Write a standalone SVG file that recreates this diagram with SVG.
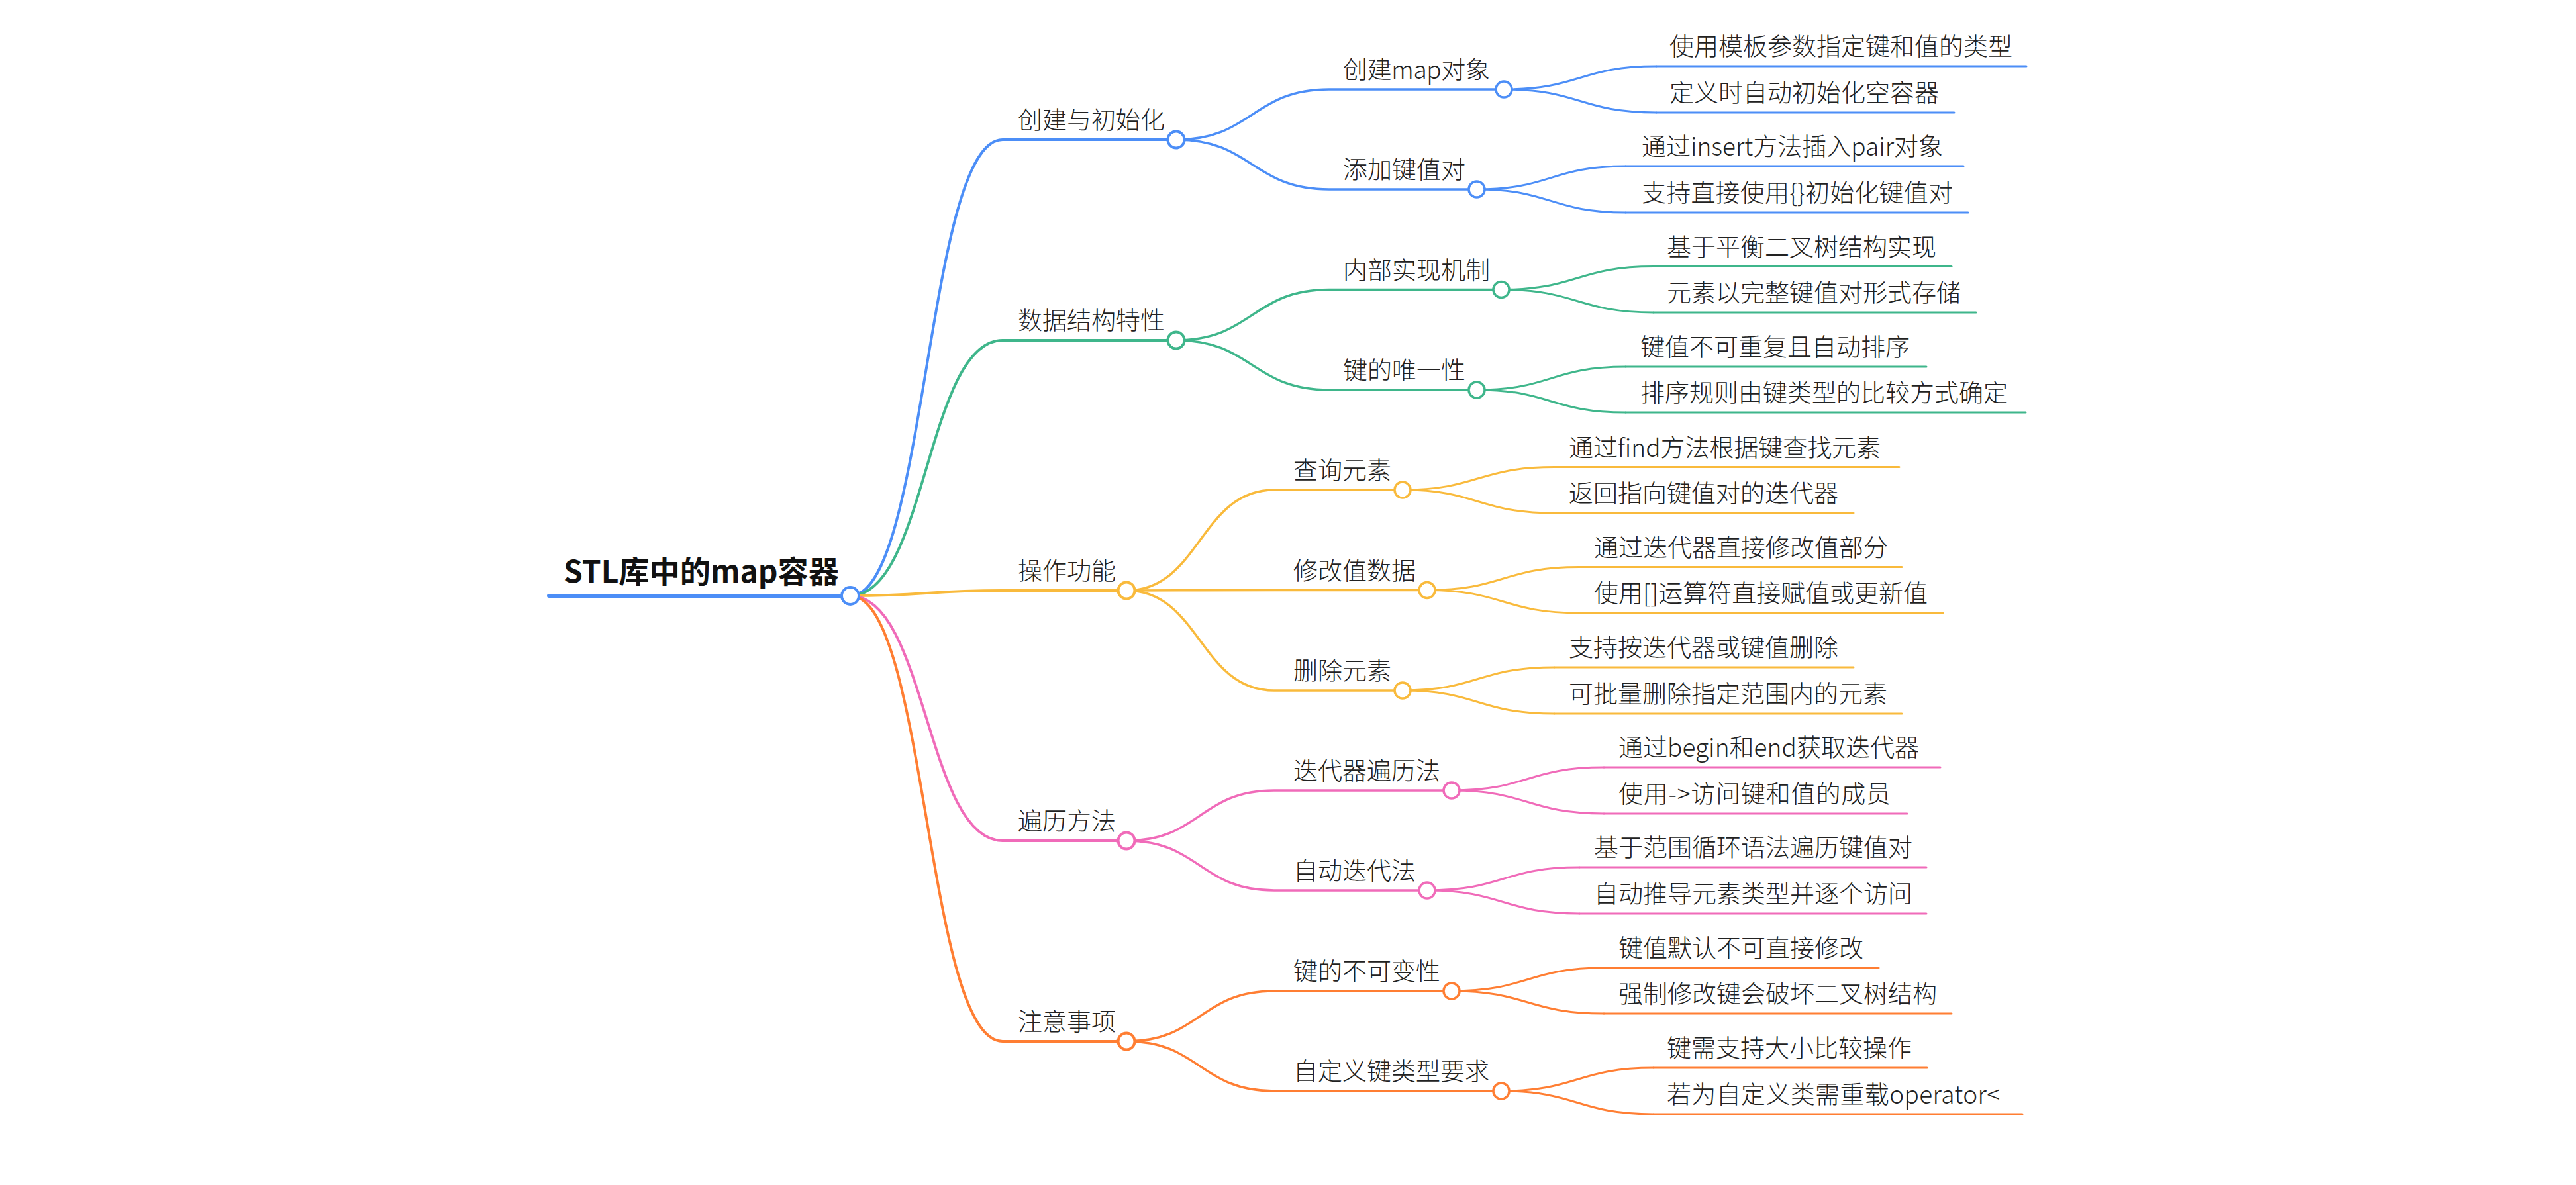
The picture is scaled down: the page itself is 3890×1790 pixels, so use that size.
<svg xmlns="http://www.w3.org/2000/svg" width="3890" height="1790" viewBox="0 0 3890 1790">
<style>
text{font-family:"Noto Sans CJK SC","Microsoft YaHei","Noto Sans",sans-serif;fill:#222;font-size:37px;font-weight:300}
.root{font-size:46px;font-weight:700;fill:#111}
path,line{fill:none;stroke-linecap:round}
circle{fill:#fff}
.b{stroke:#4C8EF7}.g{stroke:#3FB68B}.y{stroke:#F9BA3C}.p{stroke:#F06BB9}.o{stroke:#FF7E33}
.w1{stroke-width:4}.w2{stroke-width:3.5}.w3{stroke-width:3}
.c1{stroke-width:4}.c2{stroke-width:3.5}
</style>
<rect width="3890" height="1790" fill="#fff"/>
<g id="connectors">
<path class="b w1" d="M1284 900 C1399 900,1399 211,1514 211 L1776 211"/>
<path class="g w1" d="M1284 900 C1399 900,1399 514,1514 514 L1776 514"/>
<path class="y w1" d="M1284 900 C1399 900,1399 892,1514 892 L1701 892"/>
<path class="p w1" d="M1284 900 C1399 900,1399 1270,1514 1270 L1701 1270"/>
<path class="o w1" d="M1284 900 C1399 900,1399 1573,1514 1573 L1701 1573"/>
<path class="b w2" d="M1776 211 C1891 211,1891 135,2007 135 L2271 135"/>
<path class="b w2" d="M1776 211 C1891 211,1891 286,2007 286 L2230 286"/>
<path class="g w2" d="M1776 514 C1891 514,1891 437.5,2007 437.5 L2267 437.5"/>
<path class="g w2" d="M1776 514 C1891 514,1891 589,2007 589 L2230 589"/>
<path class="y w2" d="M1701 892 C1812 892,1812 740,1924 740 L2118 740"/>
<path class="y w2" d="M1701 892 C1812 892,1812 891.5,1924 891.5 L2155 891.5"/>
<path class="y w2" d="M1701 892 C1812 892,1812 1043,1924 1043 L2118 1043"/>
<path class="p w2" d="M1701 1270 C1812 1270,1812 1194,1924 1194 L2192 1194"/>
<path class="p w2" d="M1701 1270 C1812 1270,1812 1345,1924 1345 L2155 1345"/>
<path class="o w2" d="M1701 1573 C1812 1573,1812 1497,1924 1497 L2192 1497"/>
<path class="o w2" d="M1701 1573 C1812 1573,1812 1648,1924 1648 L2267 1648"/>
<path class="b w3" d="M2271 135 C2386 135,2386 100,2501 100"/>
<path class="b w3" d="M2271 135 C2386 135,2386 170,2501 170"/>
<path class="b w3" d="M2230 286 C2342 286,2342 251,2455 251"/>
<path class="b w3" d="M2230 286 C2342 286,2342 321,2455 321"/>
<path class="g w3" d="M2267 437.5 C2382 437.5,2382 402.5,2497 402.5"/>
<path class="g w3" d="M2267 437.5 C2382 437.5,2382 472,2497 472"/>
<path class="g w3" d="M2230 589 C2342 589,2342 554,2455 554"/>
<path class="g w3" d="M2230 589 C2342 589,2342 623,2455 623"/>
<path class="y w3" d="M2118 740 C2232 740,2232 705.5,2347 705.5"/>
<path class="y w3" d="M2118 740 C2232 740,2232 775,2347 775"/>
<path class="y w3" d="M2155 891.5 C2270 891.5,2270 856.5,2385 856.5"/>
<path class="y w3" d="M2155 891.5 C2270 891.5,2270 926,2385 926"/>
<path class="y w3" d="M2118 1043 C2232 1043,2232 1008,2347 1008"/>
<path class="y w3" d="M2118 1043 C2232 1043,2232 1078,2347 1078"/>
<path class="p w3" d="M2192 1194 C2307 1194,2307 1159,2422 1159"/>
<path class="p w3" d="M2192 1194 C2307 1194,2307 1229,2422 1229"/>
<path class="p w3" d="M2155 1345 C2270 1345,2270 1310,2385 1310"/>
<path class="p w3" d="M2155 1345 C2270 1345,2270 1380,2385 1380"/>
<path class="o w3" d="M2192 1497 C2307 1497,2307 1462,2422 1462"/>
<path class="o w3" d="M2192 1497 C2307 1497,2307 1531,2422 1531"/>
<path class="o w3" d="M2267 1648 C2382 1648,2382 1613,2497 1613"/>
<path class="o w3" d="M2267 1648 C2382 1648,2382 1683,2497 1683"/>
</g>
<g id="root">
<line class="b" stroke-width="6" x1="829" y1="900" x2="1284" y2="900"/>
<text class="root" x="851" y="880" textLength="416" lengthAdjust="spacingAndGlyphs">STL库中的map容器</text>
<circle class="b c1" cx="1284" cy="900" r="13"/>
</g>
<g id="n-create"><text x="1537" y="195">创建与初始化</text><circle class="b c1" cx="1776" cy="211" r="12.5"/></g>
<g id="n-struct"><text x="1537" y="498">数据结构特性</text><circle class="g c1" cx="1776" cy="514" r="12.5"/></g>
<g id="n-ops"><text x="1537" y="876">操作功能</text><circle class="y c1" cx="1701" cy="892" r="12.5"/></g>
<g id="n-trav"><text x="1537" y="1254">遍历方法</text><circle class="p c1" cx="1701" cy="1270" r="12.5"/></g>
<g id="n-note"><text x="1537" y="1557">注意事项</text><circle class="o c1" cx="1701" cy="1573" r="12.5"/></g>

<g id="n-create-map"><text x="2028" y="119" textLength="222">创建map对象</text><circle class="b c2" cx="2271" cy="135" r="12"/></g>
<g id="n-add-kv"><text x="2028" y="270">添加键值对</text><circle class="b c2" cx="2230" cy="286" r="12"/></g>
<g id="n-impl"><text x="2028" y="421.5">内部实现机制</text><circle class="g c2" cx="2267" cy="437.5" r="12"/></g>
<g id="n-unique"><text x="2028" y="573">键的唯一性</text><circle class="g c2" cx="2230" cy="589" r="12"/></g>
<g id="n-find"><text x="1953" y="724">查询元素</text><circle class="y c2" cx="2118" cy="740" r="12"/></g>
<g id="n-modify"><text x="1953" y="875.5">修改值数据</text><circle class="y c2" cx="2155" cy="891.5" r="12"/></g>
<g id="n-erase"><text x="1953" y="1027">删除元素</text><circle class="y c2" cx="2118" cy="1043" r="12"/></g>
<g id="n-iter"><text x="1953" y="1178">迭代器遍历法</text><circle class="p c2" cx="2192" cy="1194" r="12"/></g>
<g id="n-auto"><text x="1953" y="1329">自动迭代法</text><circle class="p c2" cx="2155" cy="1345" r="12"/></g>
<g id="n-immut"><text x="1953" y="1481">键的不可变性</text><circle class="o c2" cx="2192" cy="1497" r="12"/></g>
<g id="n-custom"><text x="1953" y="1632">自定义键类型要求</text><circle class="o c2" cx="2267" cy="1648" r="12"/></g>

<g id="l1"><line class="b w3" x1="2501" y1="100" x2="3060" y2="100"/><text x="2521" y="84">使用模板参数指定键和值的类型</text></g>
<g id="l2"><line class="b w3" x1="2501" y1="170" x2="2951" y2="170"/><text x="2521" y="154">定义时自动初始化空容器</text></g>
<g id="l3"><line class="b w3" x1="2455" y1="251" x2="2965" y2="251"/><text x="2479" y="235" textLength="455">通过insert方法插入pair对象</text></g>
<g id="l4"><line class="b w3" x1="2455" y1="321" x2="2972" y2="321"/><text x="2479" y="305" textLength="470">支持直接使用{}初始化键值对</text></g>
<g id="l5"><line class="g w3" x1="2497" y1="402.5" x2="2947" y2="402.5"/><text x="2517" y="386.5">基于平衡二叉树结构实现</text></g>
<g id="l6"><line class="g w3" x1="2497" y1="472" x2="2984" y2="472"/><text x="2517" y="456">元素以完整键值对形式存储</text></g>
<g id="l7"><line class="g w3" x1="2455" y1="554" x2="2909" y2="554"/><text x="2477" y="538">键值不可重复且自动排序</text></g>
<g id="l8"><line class="g w3" x1="2455" y1="623" x2="3059" y2="623"/><text x="2477" y="607">排序规则由键类型的比较方式确定</text></g>
<g id="l9"><line class="y w3" x1="2347" y1="705.5" x2="2868" y2="705.5"/><text x="2369" y="689.5" textLength="471">通过find方法根据键查找元素</text></g>
<g id="l10"><line class="y w3" x1="2347" y1="775" x2="2799" y2="775"/><text x="2369" y="759">返回指向键值对的迭代器</text></g>
<g id="l11"><line class="y w3" x1="2385" y1="856.5" x2="2872" y2="856.5"/><text x="2407" y="840.5">通过迭代器直接修改值部分</text></g>
<g id="l12"><line class="y w3" x1="2385" y1="926" x2="2934" y2="926"/><text x="2407" y="910" textLength="504">使用[]运算符直接赋值或更新值</text></g>
<g id="l13"><line class="y w3" x1="2347" y1="1008" x2="2799" y2="1008"/><text x="2369" y="992">支持按迭代器或键值删除</text></g>
<g id="l14"><line class="y w3" x1="2347" y1="1078" x2="2872" y2="1078"/><text x="2369" y="1062">可批量删除指定范围内的元素</text></g>
<g id="l15"><line class="p w3" x1="2422" y1="1159" x2="2930" y2="1159"/><text x="2444" y="1143" textLength="454">通过begin和end获取迭代器</text></g>
<g id="l16"><line class="p w3" x1="2422" y1="1229" x2="2880" y2="1229"/><text x="2444" y="1213" textLength="411">使用-&gt;访问键和值的成员</text></g>
<g id="l17"><line class="p w3" x1="2385" y1="1310" x2="2909" y2="1310"/><text x="2407" y="1294">基于范围循环语法遍历键值对</text></g>
<g id="l18"><line class="p w3" x1="2385" y1="1380" x2="2909" y2="1380"/><text x="2407" y="1364">自动推导元素类型并逐个访问</text></g>
<g id="l19"><line class="o w3" x1="2422" y1="1462" x2="2837" y2="1462"/><text x="2444" y="1446">键值默认不可直接修改</text></g>
<g id="l20"><line class="o w3" x1="2422" y1="1531" x2="2947" y2="1531"/><text x="2444" y="1515">强制修改键会破坏二叉树结构</text></g>
<g id="l21"><line class="o w3" x1="2497" y1="1613" x2="2910" y2="1613"/><text x="2517" y="1597">键需支持大小比较操作</text></g>
<g id="l22"><line class="o w3" x1="2497" y1="1683" x2="3054" y2="1683"/><text x="2517" y="1667" textLength="503">若为自定义类需重载operator&lt;</text></g>
</svg>
